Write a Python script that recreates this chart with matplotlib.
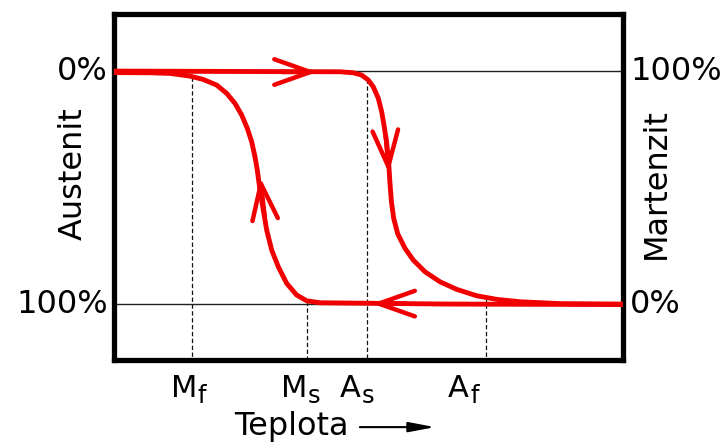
import numpy as np
import matplotlib.pyplot as plt
import matplotlib.transforms as mtransforms

# teplota (0 = levý okraj, 100 = pravý okraj), podíl austenitu v %
heat_t = [0.0, 44.40, 47.01, 48.66, 49.96, 50.94, 51.93, 52.59, 53.10, 53.58, 53.97,
          54.22, 54.50, 54.95, 55.75, 57.17, 58.80, 61.10, 64.05, 67.33, 71.26,
          75.19, 79.76, 87.6, 100.0]
heat_a = [0.0, 0.30, 0.73, 1.72, 3.86, 6.74, 11.72, 17.47, 23.91, 31.03, 39.61,
          48.20, 56.0, 63.2, 69.9, 76.09, 81.12, 86.14, 90.43, 93.69, 96.44,
          97.98, 99.01, 99.8, 100.0]

cool_t = [100.0, 66.0, 40.47, 37.86, 35.89, 33.93, 32.28, 30.98, 30.0, 29.33, 28.68,
          28.15, 27.70, 27.05, 26.19, 25.09, 23.77, 22.14, 20.18, 17.49, 14.93,
          11.0, 7.07, 0.0]
cool_a = [100.2, 100.0, 99.44, 98.58, 96.14, 91.12, 83.99, 76.82, 68.24, 59.66, 51.07,
          42.49, 36.78, 30.34, 24.59, 18.88, 13.86, 9.57, 6.01, 3.56, 2.15,
          0.99, 0.73, 0.64]

marks = [('M', 'f'), ('M', 's'), ('A', 's'), ('A', 'f')]
marks_t = [15.3, 37.9, 49.7, 73.1]

left_ticks = ['0%', '100%']
right_ticks = ['100%', '0%']

RED = '#f00000'

fig = plt.figure(figsize=(7.27, 4.44), dpi=100)
ax = fig.add_axes([114 / 727, 1 - 360 / 444, 509 / 727, 346 / 444])
ax.set_xlim(0, 100)
ax.set_ylim(124.0, -24.5)
ax.set_xticks([])
ax.set_yticks([])
for s in ax.spines.values():
    s.set_linewidth(3.8)
    s.set_color('black')

# tenké vodorovné čáry 0 % a 100 %
ax.axhline(0, color='#222222', lw=1.0, zorder=1)
ax.axhline(100, color='#222222', lw=1.0, zorder=1)

# svislé čárkované čáry od křivky dolů
heat_interp = lambda t: np.interp(t, heat_t, heat_a)
cool_interp = lambda t: np.interp(t, cool_t[::-1], cool_a[::-1])
starts = [cool_interp(marks_t[0]), cool_interp(marks_t[1]),
          heat_interp(marks_t[2]), heat_interp(marks_t[3])]
for t, a in zip(marks_t, starts):
    ax.plot([t, t], [a, 124.0], color='#111111', lw=0.9,
            ls=(0, (3.5, 2.0)), zorder=2)

# křivky
ax.plot(heat_t, heat_a, color=RED, lw=3.5, zorder=3,
        solid_joinstyle='round', solid_capstyle='butt')
ax.plot(cool_t, cool_a, color=RED, lw=3.5, zorder=3,
        solid_joinstyle='round', solid_capstyle='butt')

# šipky na křivkách (hrot, odkud)
arrows = [((39.9, 0.4), (33.0, 0.4)),
          ((54.0, 43.8), (53.4, 28.0)),
          ((50.7, 99.8), (57.2, 99.8)),
          ((28.7, 45.5), (29.6, 62.0))]
for tip, tail in arrows:
    ax.annotate('', xy=tip, xytext=tail,
                arrowprops=dict(arrowstyle='->,head_length=1.3,head_width=0.46',
                                color=RED, lw=3.2, mutation_scale=20,
                                shrinkA=0, shrinkB=0),
                zorder=4)

fs = 23
trans_l = mtransforms.blended_transform_factory(ax.transAxes, ax.transData)
for lab, y in zip(left_ticks, [0, 100]):
    ax.text(-0.012, y, lab, transform=trans_l, ha='right', va='center', fontsize=fs)
for lab, y in zip(right_ticks, [0, 100]):
    ax.text(1.014, y, lab, transform=trans_l, ha='left', va='center', fontsize=fs)

ax.text(-0.081, 0.54, 'Austenit', transform=ax.transAxes, rotation=90,
        ha='center', va='center', fontsize=fs)
ax.text(1.065, 0.509, 'Martenzit', transform=ax.transAxes, rotation=90,
        ha='center', va='center', fontsize=fs)

# popisky teplot: velké písmeno + dolní index, spoj posunutý v pixelech
join_px = [5, 0, -6, -17]
for (big, sub), t, dx in zip(marks, marks_t, join_px):
    base = mtransforms.offset_copy(ax.transData, fig=fig, x=dx, y=0, units='dots')
    trans_b = mtransforms.blended_transform_factory(base, ax.transAxes)
    ax.text(t, -0.107, big, transform=trans_b, ha='right', va='baseline', fontsize=22)
    sub_tr = mtransforms.offset_copy(trans_b, fig=fig, x=1, y=-6, units='dots')
    ax.text(t, -0.107, sub, transform=sub_tr, ha='left', va='baseline', fontsize=17.5)

ax.text(0.236, -0.217, 'Teplota', transform=ax.transAxes, ha='left', va='baseline',
        fontsize=fs)
ax.annotate('', xy=(0.631, -0.194), xytext=(0.483, -0.194), xycoords='axes fraction',
            arrowprops=dict(arrowstyle='-|>,head_length=1.6,head_width=0.3',
                            color='black', lw=1.5, mutation_scale=10,
                            shrinkA=0, shrinkB=0))

fig.savefig('out.png', dpi=100)
